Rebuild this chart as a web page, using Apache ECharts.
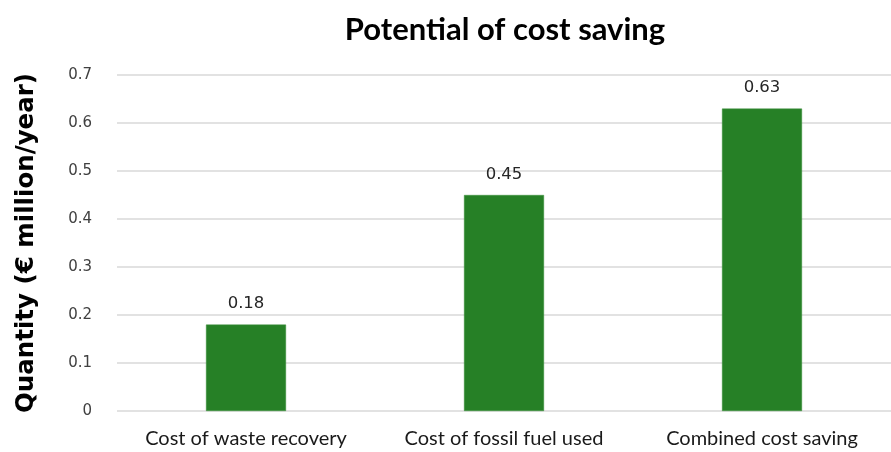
<!DOCTYPE html>
<html>
<head>
<meta charset="utf-8">
<script src="https://cdn.jsdelivr.net/npm/echarts@6/dist/echarts.min.js"></script>
<style>
  html, body { margin: 0; padding: 0; background: #ffffff; }
  #chart { width: 891px; height: 452px; }
</style>
</head>
<body>
<div id="chart"></div>
<script>
// Cost-saving categories and their annual values (€ million/year)
const categories = ['Cost of waste recovery', 'Cost of fossil fuel used', 'Combined cost saving'];
const savings = [0.18, 0.45, 0.63];
const yTicks = [0, 0.1, 0.2, 0.3, 0.4, 0.5, 0.6, 0.7];

const chart = echarts.init(document.getElementById('chart'));
chart.setOption({
  backgroundColor: '#ffffff',
  animation: false,
  title: {
    text: 'Potential of cost saving',
    left: 500,
    textAlign: 'center',
    top: 9,
    textStyle: { fontFamily: 'Lato', fontWeight: 'bold', fontSize: 31, color: '#000000' }
  },
  grid: { left: 117, top: 75, width: 780, height: 336 },
  xAxis: {
    type: 'category',
    data: categories,
    axisLine: { show: false },
    axisTick: { show: false },
    axisLabel: {
      interval: 0,
      hideOverlap: false,
      margin: 18,
      fontFamily: 'Lato',
      fontSize: 20,
      color: '#1a1a1a'
    }
  },
  yAxis: {
    type: 'value',
    min: yTicks[0],
    max: yTicks[yTicks.length - 1],
    interval: 0.1,
    name: 'Quantity (€ million/year)',
    nameLocation: 'middle',
    nameGap: 78,
    nameTextStyle: { fontFamily: 'DejaVu Sans', fontWeight: 'bold', fontSize: 24.5, color: '#000000' },
    axisLabel: {
      margin: 25,
      fontFamily: 'DejaVu Sans',
      fontSize: 15,
      color: '#404040',
      formatter: v => String(Math.round(v * 10) / 10)
    },
    splitLine: { lineStyle: { color: '#d9d9d9', width: 1.5 } },
    axisLine: { show: false },
    axisTick: { show: false }
  },
  series: [{
    type: 'bar',
    data: savings,
    barWidth: 80,
    itemStyle: { color: '#268026', borderColor: '#3a8f3a', borderWidth: 0.5 },
    label: {
      show: true,
      position: 'top',
      distance: 12,
      fontFamily: 'DejaVu Sans',
      fontSize: 16.5,
      color: '#262626',
      formatter: p => p.value.toFixed(2)
    }
  }]
});
</script>
</body>
</html>
